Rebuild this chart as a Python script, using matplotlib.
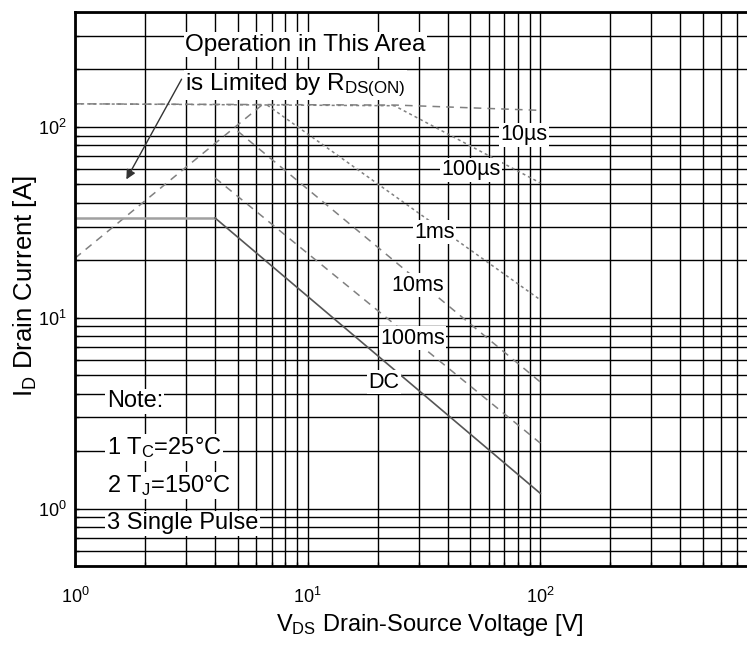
import matplotlib
matplotlib.use("Agg")
import matplotlib.pyplot as plt
from matplotlib.ticker import LogLocator, NullFormatter

plt.rcParams['font.family'] = ['Liberation Sans', 'DejaVu Sans']
plt.rcParams['mathtext.fontset'] = 'custom'
plt.rcParams['mathtext.rm'] = 'Liberation Sans'
plt.rcParams['mathtext.it'] = 'Liberation Sans:italic'

# safe operating area curves
rds_v = [1, 6.5]
rds_i = [20.5, 133]
us10_v = [1, 24, 100]
us10_i = [132, 130, 122]
us100_v = [1, 23.6, 100]
us100_i = [132, 129, 50.8]
ms1_v = [6.7, 100]
ms1_i = [130, 12.4]
ms10_v = [5, 100]
ms10_i = [95, 4.6]
ms100_v = [4, 100]
ms100_i = [54, 2.2]
dc_v = [1, 4, 100]
dc_i = [33.3, 33.3, 1.2]

curve_labels = ["10\u00b5s", "100\u00b5s", "1ms", "10ms", "100ms", "DC"]
label_v = [85, 50.5, 35.2, 29.7, 28.3, 21.3]
label_i = [90.8, 59.5, 28.1, 14.8, 7.8, 4.6]

notes = ["Note:", "1 T$_\\mathrm{C}$=25\u00b0C", "2 T$_\\mathrm{J}$=150\u00b0C", "3 Single Pulse"]
notes_i = [3.64, 2.09, 1.32, 0.838]

fig = plt.figure(figsize=(7.47, 6.45), dpi=100)
ax = fig.add_axes([0.1004, 0.1225, 0.8996, 0.859])
ax.set_xscale("log")
ax.set_yscale("log")
ax.set_xlim(1, 773)
ax.set_ylim(0.5, 400)

ax.xaxis.set_minor_locator(LogLocator(base=10, subs=range(2, 10)))
ax.yaxis.set_minor_locator(LogLocator(base=10, subs=range(2, 10)))
ax.xaxis.set_minor_formatter(NullFormatter())
ax.yaxis.set_minor_formatter(NullFormatter())
ax.grid(True, which="both", color="black", linewidth=1.0)
ax.set_axisbelow(True)
ax.tick_params(which="both", direction="in", length=3, width=1, labelsize=13)
ax.tick_params(axis="x", pad=15)
ax.tick_params(axis="y", pad=6)
for side in ["left", "bottom", "top"]:
    ax.spines[side].set_linewidth(2)
ax.spines["right"].set_visible(False)

dash_col = "#808080"
ax.plot(rds_v, rds_i, color=dash_col, lw=1.1, ls=(0, (5, 4)))
ax.plot(us10_v, us10_i, color=dash_col, lw=1.1, ls=(0, (5, 4)))
ax.plot(us100_v, us100_i, color=dash_col, lw=1.1, ls=(0, (2, 2)))
ax.plot(ms1_v, ms1_i, color=dash_col, lw=1.1, ls=(0, (2, 2)))
ax.plot(ms10_v, ms10_i, color=dash_col, lw=1.1, ls=(0, (5, 4)))
ax.plot(ms100_v, ms100_i, color=dash_col, lw=1.1, ls=(0, (5, 4)))
ax.plot(dc_v[:2], dc_i[:2], color="#a0a0a0", lw=1.8)
ax.plot(dc_v[1:], dc_i[1:], color="#555555", lw=1.2)

box = dict(facecolor="white", edgecolor="none", pad=1)
for txt, v, i in zip(curve_labels, label_v, label_i):
    ax.text(v, i, txt, fontsize=15.5, ha="center", va="center", bbox=box)

ax.text(2.97, 269, "Operation in This Area", fontsize=17.5, ha="left", va="center", bbox=box)
ax.text(2.97, 166, "is Limited by R$_\\mathrm{DS(ON)}$", fontsize=17.5, ha="left", va="center", bbox=box)
ax.annotate("", xy=(1.64, 51.5), xytext=(2.91, 183),
            arrowprops=dict(arrowstyle="-|>", color="#333333", lw=1, mutation_scale=14))

for txt, i in zip(notes, notes_i):
    ax.text(1.37, i, txt, fontsize=17, ha="left", va="center", bbox=box)

ax.set_xlabel("V$_\\mathrm{DS}$ Drain-Source Voltage [V]", fontsize=17)
ax.set_ylabel("I$_\\mathrm{D}$ Drain Current [A]", fontsize=18.5)
ax.xaxis.set_label_coords(0.528, -0.083)
ax.yaxis.set_label_coords(-0.054, 0.505)

fig.savefig("out.png", dpi=100)
